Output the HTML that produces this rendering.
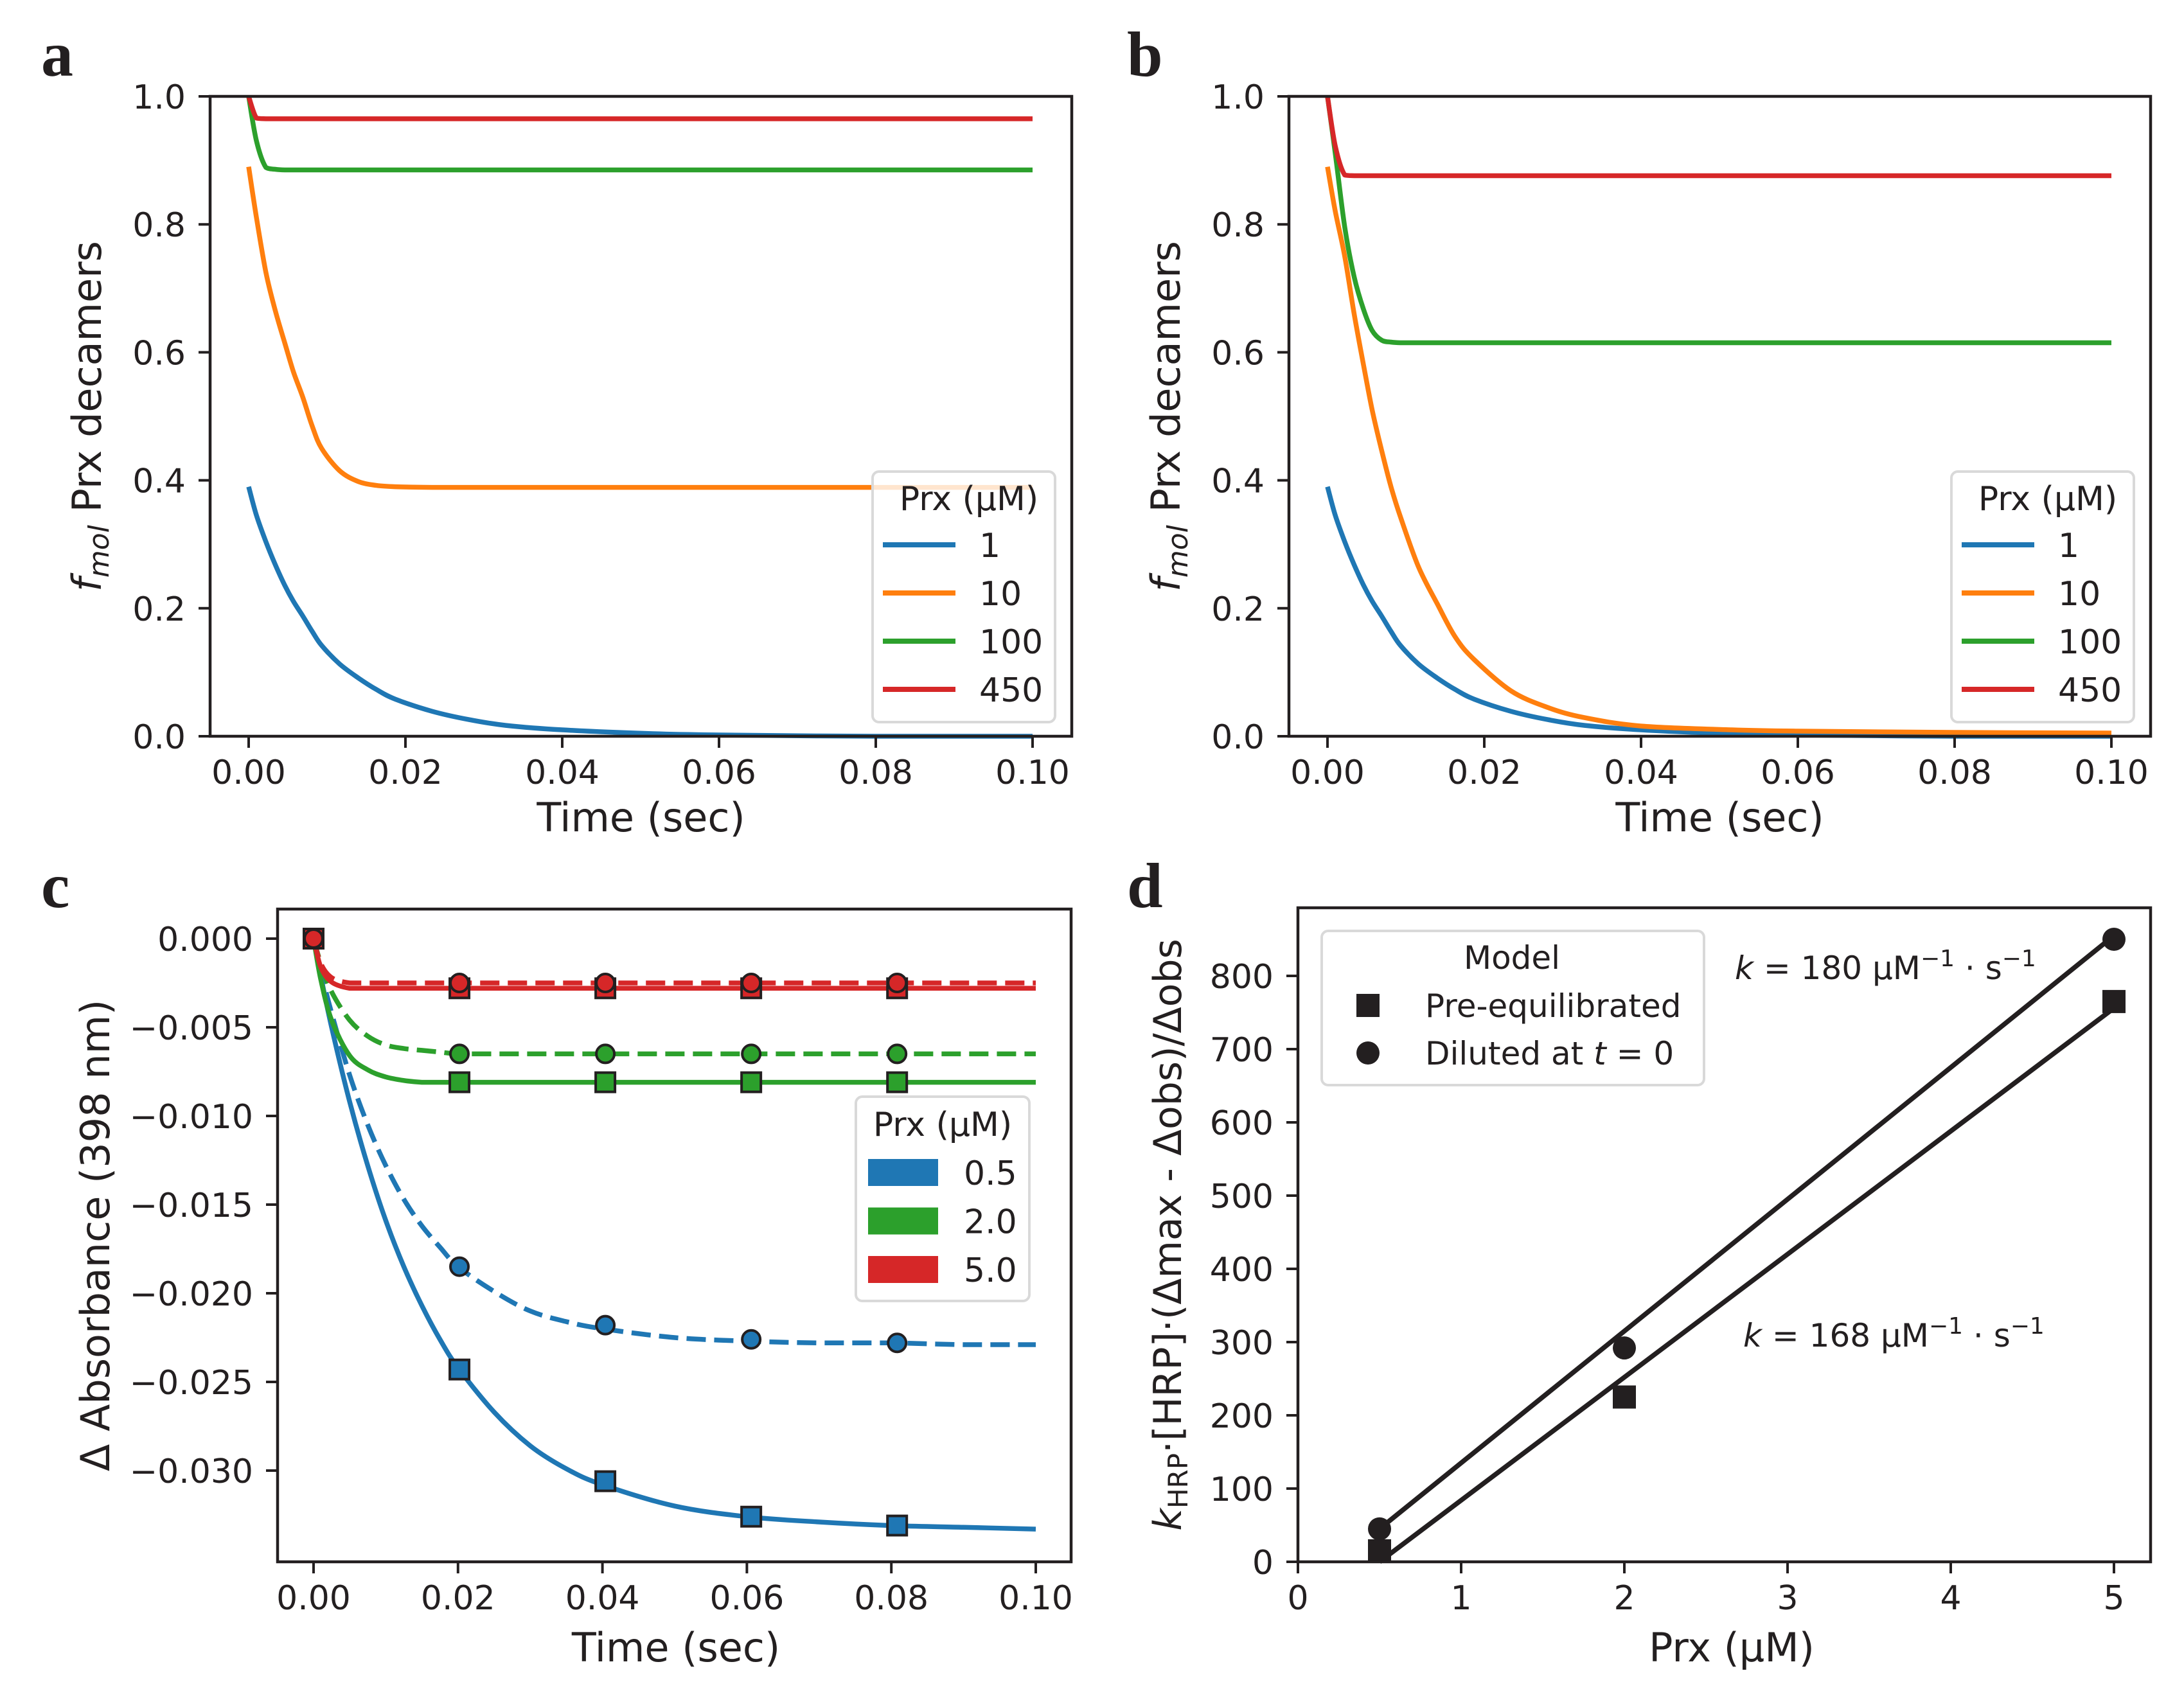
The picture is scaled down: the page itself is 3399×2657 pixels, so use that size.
<!DOCTYPE html>
<html><head><meta charset="utf-8">
<style>
html,body{margin:0;padding:0;background:#fff;}
svg{display:block;}
text{font-family:"DejaVu Sans","Liberation Sans",sans-serif;fill:#231f20;}
.letter{font-family:"Liberation Serif","DejaVu Serif",serif;font-weight:bold;font-size:100px;}
</style></head>
<body>
<svg id="fig" width="3399" height="2657" viewBox="0 0 3399 2657" xmlns="http://www.w3.org/2000/svg">
<rect x="0" y="0" width="3399" height="2657" fill="#fff"/>
<text class="letter" x="64" y="118">a</text>
<text class="letter" x="1754" y="118">b</text>
<text class="letter" x="64" y="1412">c</text>
<text class="letter" x="1754" y="1412">d</text>
</svg>
<script>
// ---------- Panel a/b data ----------
const tAB = [0,0.001,0.0022,0.0034,0.0046,0.0057,0.0069,0.0081,0.0093,0.0116,0.014,0.0163,0.0187,0.0234,0.0281,0.0328,0.04,0.0516,0.06,0.08,0.1];
const aBlue   = [0.39,0.345,0.304,0.268,0.236,0.211,0.188,0.164,0.142,0.113,0.091,0.073,0.058,0.039,0.026,0.017,0.01,0.004,0.002,0.0,0.0];
const aOrange = [0.89,0.81,0.725,0.665,0.615,0.57,0.53,0.485,0.45,0.415,0.398,0.392,0.39,0.389,0.389,0.389,0.389,0.389,0.389,0.389,0.389];
const aGreen  = [1.0,0.93,0.889,0.886,0.885,0.885,0.885,0.885,0.885,0.885,0.885,0.885,0.885,0.885,0.885,0.885,0.885,0.885,0.885,0.885,0.885];
const aRed    = [1.0,0.966,0.965,0.965,0.965,0.965,0.965,0.965,0.965,0.965,0.965,0.965,0.965,0.965,0.965,0.965,0.965,0.965,0.965,0.965,0.965];
const bBlue   = [0.39,0.345,0.304,0.268,0.236,0.211,0.188,0.164,0.142,0.113,0.091,0.073,0.058,0.039,0.026,0.017,0.01,0.004,0.002,0.0,0.0];
const bOrange = [0.89,0.82,0.75,0.66,0.58,0.51,0.447,0.39,0.343,0.265,0.207,0.155,0.12,0.071,0.045,0.029,0.016,0.01,0.008,0.006,0.005];
const bGreen  = [1.0,0.91,0.796,0.718,0.667,0.634,0.619,0.616,0.615,0.615,0.615,0.615,0.615,0.615,0.615,0.615,0.615,0.615,0.615,0.615,0.615];
const bRed    = [1.0,0.922,0.877,0.876,0.876,0.876,0.876,0.876,0.876,0.876,0.876,0.876,0.876,0.876,0.876,0.876,0.876,0.876,0.876,0.876,0.876];
const abLegendLabels = ["1","10","100","450"];
const abXTicks = [0,0.02,0.04,0.06,0.08,0.10];
const abXTickLabels = ["0.00","0.02","0.04","0.06","0.08","0.10"];
const abYTicks = [0,0.2,0.4,0.6,0.8,1.0];
const abYTickLabels = ["0.0","0.2","0.4","0.6","0.8","1.0"];

// ---------- Panel c data ----------
const tC = [0,0.001,0.0025,0.005,0.0075,0.01,0.0125,0.015,0.0175,0.02,0.025,0.03,0.035,0.04,0.05,0.06,0.07,0.08,0.09,0.1];
const cBlueSolid  = [0,-0.0021,-0.0050,-0.0092,-0.0128,-0.0159,-0.0185,-0.0207,-0.0226,-0.0242,-0.0267,-0.0286,-0.0299,-0.0308,-0.0320,-0.0326,-0.0329,-0.0331,-0.0332,-0.0333];
const cBlueDash   = [0,-0.0018,-0.0042,-0.0077,-0.0105,-0.0128,-0.0147,-0.0162,-0.0174,-0.0185,-0.0199,-0.0210,-0.0216,-0.0220,-0.0225,-0.0227,-0.0228,-0.0228,-0.0229,-0.0229];
const cGreenSolid = [0,-0.0023,-0.0046,-0.0066,-0.0074,-0.0078,-0.0080,-0.0081,-0.0081,-0.0081,-0.0081,-0.0081,-0.0081,-0.0081,-0.0081,-0.0081,-0.0081,-0.0081,-0.0081,-0.0081];
const cGreenDash  = [0,-0.0014,-0.0030,-0.0046,-0.0055,-0.0060,-0.0062,-0.0063,-0.0064,-0.0065,-0.0065,-0.0065,-0.0065,-0.0065,-0.0065,-0.0065,-0.0065,-0.0065,-0.0065,-0.0065];
const cRedSolid   = [0,-0.0016,-0.00245,-0.0028,-0.0028,-0.0028,-0.0028,-0.0028,-0.0028,-0.0028,-0.0028,-0.0028,-0.0028,-0.0028,-0.0028,-0.0028,-0.0028,-0.0028,-0.0028,-0.0028];
const cRedDash    = [0,-0.0014,-0.0022,-0.0025,-0.0025,-0.0025,-0.0025,-0.0025,-0.0025,-0.0025,-0.0025,-0.0025,-0.0025,-0.0025,-0.0025,-0.0025,-0.0025,-0.0025,-0.0025,-0.0025];
const tMarkers = [0,0.0202,0.0404,0.0606,0.0808];
const cBlueSq  = [0,-0.0243,-0.0306,-0.0326,-0.0331];
const cGreenSq = [0,-0.0081,-0.0081,-0.0081,-0.0081];
const cRedSq   = [0,-0.0028,-0.0028,-0.0028,-0.0028];
const cBlueCi  = [0,-0.0185,-0.0218,-0.0226,-0.0228];
const cGreenCi = [0,-0.0065,-0.0065,-0.0065,-0.0065];
const cRedCi   = [0,-0.0025,-0.0025,-0.0025,-0.0025];
const cLegendLabels = ["0.5","2.0","5.0"];
const cYTicks = [0,-0.005,-0.01,-0.015,-0.02,-0.025,-0.03];
const cYTickLabels = ["0.000","\u22120.005","\u22120.010","\u22120.015","\u22120.020","\u22120.025","\u22120.030"];

// ---------- Panel d data ----------
const dPrx = [0.5,2,5];
const dSquares = [15,225,765];
const dCircles = [45,292,850];
const fitSlopes = [180,168];
const fitIntercepts = [-45,-84];
const dXTicks = [0,1,2,3,4,5];
const dYTicks = [0,100,200,300,400,500,600,700,800];

const C = {blue:"#1f77b4",orange:"#ff7f0e",green:"#2ca02c",red:"#d62728",ink:"#231f20"};
const NS = "http://www.w3.org/2000/svg";
const fig = document.getElementById('fig');
function mk(tag, attrs, parent){
  const e = document.createElementNS(NS, tag);
  for (const k in attrs) e.setAttribute(k, attrs[k]);
  (parent||fig).appendChild(e);
  return e;
}
function lin(d0,d1,p0,p1){return v=>p0+(v-d0)/(d1-d0)*(p1-p0);}

function frame(g, L,T,R,B){
  const r = mk('rect',{x:L,y:T,width:R-L,height:B-T,fill:'none',stroke:C.ink,'stroke-width':4.5},g);
  
  
}
function xTicks(g, xs, labels, sx, B){
  xs.forEach((v,i)=>{
    const x = sx(v);
    const t = mk('line',{x1:x,y1:B,x2:x,y2:B+18,stroke:C.ink,'stroke-width':4},g);
    
    
    const l = mk('text',{x:x,y:B+74,'font-size':52,'text-anchor':'middle'},g);
    l.textContent = labels[i];
    
    
  });
}
function yTicks(g, ys, labels, sy, L){
  ys.forEach((v,i)=>{
    const y = sy(v);
    const t = mk('line',{x1:L-18,y1:y,x2:L,y2:y,stroke:C.ink,'stroke-width':4},g);
    
    
    const l = mk('text',{x:L-38,y:y+19,'font-size':52,'text-anchor':'end'},g);
    l.textContent = labels[i];
    
    
  });
}
function path(g, xs, ys, sx, sy, color, dash, name){
  const P = xs.map((x,i)=>[sx(x), sy(ys[i])]);
  let d = 'M'+P[0][0].toFixed(1)+','+P[0][1].toFixed(1);
  for (let i=0;i<P.length-1;i++){
    const p0=P[Math.max(0,i-1)], p1=P[i], p2=P[i+1], p3=P[Math.min(P.length-1,i+2)];
    let c1x=p1[0]+(p2[0]-p0[0])/6, c1y=p1[1]+(p2[1]-p0[1])/6;
    let c2x=p2[0]-(p3[0]-p1[0])/6, c2y=p2[1]-(p3[1]-p1[1])/6;
    // keep monotone in y between points
    const lo=Math.min(p1[1],p2[1]), hi=Math.max(p1[1],p2[1]);
    c1y=Math.min(hi,Math.max(lo,c1y)); c2y=Math.min(hi,Math.max(lo,c2y));
    d += ` C${c1x.toFixed(1)},${c1y.toFixed(1)} ${c2x.toFixed(1)},${c2y.toFixed(1)} ${p2[0].toFixed(1)},${p2[1].toFixed(1)}`;
  }
  const p = mk('path',{d:d,fill:'none',stroke:color,'stroke-width':7.5,'stroke-linejoin':'round'},g);
  if (dash) p.setAttribute('stroke-dasharray','30,13');
  
  
}
function clip(id,L,T,R,B){
  const cp = mk('clipPath',{id:id});
  mk('rect',{x:L,y:T,width:R-L,height:B-T},cp);
}

// ---------- Panels a & b ----------
function panelAB(prefix, L, series){
  const T=150, B=1146, R=L+1341;
  const sx = lin(0,0.1,L+60,L+1280);
  const sy = lin(0,1,B,T);
  const g = mk('g',{});
  
  
  const names=['blue-1uM','orange-10uM','green-100uM','red-450uM'];
  const cols=[C.blue,C.orange,C.green,C.red];
  series.forEach((s,i)=>path(g,tAB,s,sx,sy,cols[i],false,'line-'+names[i]));
  frame(g,L,T,R,B);
  xTicks(g,abXTicks,abXTickLabels,sx,B);
  yTicks(g,abYTicks,abYTickLabels,sy,L);
  const xl = mk('text',{x:(L+R)/2,y:1294,'font-size':62,'text-anchor':'middle'},g);
  xl.textContent='Time (sec)';
  
  
  const yl = mk('text',{transform:`translate(${L-170},${(T+B)/2}) rotate(-90)`,'font-size':62,'text-anchor':'middle'},g);
  yl.innerHTML='<tspan font-style="italic">f</tspan><tspan font-style="italic" font-size="44" dy="12">mol</tspan><tspan dy="-12"> Prx decamers</tspan>';
  
  
  const lx = R-310, ly=734;
  const lg = mk('g',{},g);
  
  
  const box = mk('rect',{x:lx,y:ly,width:284,height:390,rx:10,fill:'#fff','fill-opacity':0.8,stroke:'#d9d9d9','stroke-width':4},lg);
  
  
  const tt = mk('text',{x:lx+150,y:ly+60,'font-size':52,'text-anchor':'middle'},lg);
  tt.textContent='Prx (\u00b5M)';
  
  
  abLegendLabels.forEach((lab,i)=>{
    const y = ly+114+i*75;
    const ln = mk('line',{x1:lx+16,y1:y,x2:lx+129,y2:y,stroke:cols[i],'stroke-width':8},lg);
    
    
    const tx = mk('text',{x:lx+166,y:y+19,'font-size':52},lg);
    tx.textContent=lab;
    
    
  });
}
panelAB('a',327,[aBlue,aOrange,aGreen,aRed]);
panelAB('b',2006,[bBlue,bOrange,bGreen,bRed]);

// ---------- Panel c ----------
(function(){
  const L=432,T=1415,R=1667,B=2431;
  const sx = lin(0,0.1,488,1612);
  const sy = lin(0,-0.03,1461,2289);
  const g = mk('g',{});
  
  
  clip('clipc',L,T,R,B);
  const inner = mk('g',{'clip-path':'url(#clipc)'},g);
  path(inner,tC,cBlueSolid,sx,sy,C.blue,false,'line-blue-pre-equilibrated');
  path(inner,tC,cBlueDash,sx,sy,C.blue,true,'line-blue-diluted');
  path(inner,tC,cGreenSolid,sx,sy,C.green,false,'line-green-pre-equilibrated');
  path(inner,tC,cGreenDash,sx,sy,C.green,true,'line-green-diluted');
  path(inner,tC,cRedSolid,sx,sy,C.red,false,'line-red-pre-equilibrated');
  path(inner,tC,cRedDash,sx,sy,C.red,true,'line-red-diluted');
  const sq=[[cBlueSq,C.blue],[cGreenSq,C.green],[cRedSq,C.red]];
  const ci=[[cBlueCi,C.blue],[cGreenCi,C.green],[cRedCi,C.red]];
  sq.forEach(([vals,col])=>vals.forEach((v,i)=>{
    const m = mk('rect',{x:sx(tMarkers[i])-15,y:sy(v)-15,width:30,height:30,fill:col,stroke:C.ink,'stroke-width':4},g);
    
    
  }));
  ci.forEach(([vals,col])=>vals.forEach((v,i)=>{
    const m = mk('circle',{cx:sx(tMarkers[i]),cy:sy(v),r:14,fill:col,stroke:C.ink,'stroke-width':4},g);
    
    
  }));
  frame(g,L,T,R,B);
  xTicks(g,abXTicks,abXTickLabels,sx,B);
  yTicks(g,cYTicks,cYTickLabels,sy,L);
  const xl = mk('text',{x:1052,y:2586,'font-size':62,'text-anchor':'middle'},g);
  xl.textContent='Time (sec)';
  
  
  const yl = mk('text',{transform:`translate(170,${(T+B)/2}) rotate(-90)`,'font-size':62,'text-anchor':'middle'},g);
  yl.textContent='\u0394 Absorbance (398 nm)';
  
  
  const lg = mk('g',{},g);
  
  
  const box = mk('rect',{x:1332,y:1707,width:270,height:318,rx:10,fill:'#fff','fill-opacity':0.8,stroke:'#d9d9d9','stroke-width':4},lg);
  
  
  const tt = mk('text',{x:1467,y:1768,'font-size':52,'text-anchor':'middle'},lg);
  tt.textContent='Prx (\u00b5M)';
  
  
  const cols=[C.blue,C.green,C.red];
  cLegendLabels.forEach((lab,i)=>{
    const y = 1804+i*75.5;
    const p = mk('rect',{x:1351,y:y,width:109,height:42,fill:cols[i]},lg);
    
    
    const tx = mk('text',{x:1500,y:y+40,'font-size':52},lg);
    tx.textContent=lab;
    
    
  });
})();

// ---------- Panel d ----------
(function(){
  const L=2020,T=1413,R=3347,B=2431;
  const sx = lin(0,1,2020,2274);
  const sy = lin(0,100,2431,2317);
  const g = mk('g',{});
  
  
  fitSlopes.forEach((s,i)=>{
    const x0=dPrx[0], x1=dPrx[dPrx.length-1];
    const ln = mk('line',{x1:sx(x0),y1:sy(s*x0+fitIntercepts[i]),x2:sx(x1),y2:sy(s*x1+fitIntercepts[i]),stroke:C.ink,'stroke-width':7.5},g);
    
    
  });
  dPrx.forEach((x,i)=>{
    const s = mk('rect',{x:sx(x)-18,y:sy(dSquares[i])-18,width:36,height:36,fill:C.ink},g);
    
    
    const c = mk('circle',{cx:sx(x),cy:sy(dCircles[i]),r:18,fill:C.ink},g);
    
    
  });
  frame(g,L,T,R,B);
  xTicks(g,dXTicks,dXTicks.map(String),sx,B);
  yTicks(g,dYTicks,dYTicks.map(String),sy,L);
  const xl = mk('text',{x:2695,y:2586,'font-size':62,'text-anchor':'middle'},g);
  xl.textContent='Prx (\u00b5M)';
  
  
  const yl = mk('text',{transform:`translate(1838,${(T+B)/2}) rotate(-90)`,'font-size':60,'text-anchor':'middle'},g);
  yl.innerHTML='<tspan font-style="italic">k</tspan><tspan font-size="42" dy="10">HRP</tspan><tspan dy="-10">\u00b7[HRP]\u00b7(\u0394max - \u0394obs)/\u0394obs</tspan>';
  
  
  const a1 = mk('text',{x:2700,y:1524,'font-size':50},g);
  a1.innerHTML='<tspan font-style="italic">k</tspan> = 180 \u00b5M<tspan font-size="36" dy="-20">\u22121</tspan><tspan dy="20"> \u00b7 s</tspan><tspan font-size="36" dy="-20">\u22121</tspan>';
  
  
  const a2 = mk('text',{x:2713,y:2096,'font-size':50},g);
  a2.innerHTML='<tspan font-style="italic">k</tspan> = 168 \u00b5M<tspan font-size="36" dy="-20">\u22121</tspan><tspan dy="20"> \u00b7 s</tspan><tspan font-size="36" dy="-20">\u22121</tspan>';
  
  
  const lg = mk('g',{},g);
  
  
  const box = mk('rect',{x:2057,y:1449,width:595,height:240,rx:10,fill:'#fff','fill-opacity':0.8,stroke:'#d9d9d9','stroke-width':4},lg);
  
  
  const tt = mk('text',{x:2353,y:1508,'font-size':50,'text-anchor':'middle'},lg);
  tt.textContent='Model';
  
  
  const ms = mk('rect',{x:2111,y:1547,width:36,height:36,fill:C.ink},lg);
  
  
  const t1 = mk('text',{x:2218,y:1583,'font-size':50},lg);
  t1.textContent='Pre-equilibrated';
  
  
  const mc = mk('circle',{cx:2129,cy:1639,r:18,fill:C.ink},lg);
  
  
  const t2 = mk('text',{x:2218,y:1657,'font-size':50},lg);
  t2.innerHTML='Diluted at <tspan font-style="italic">t</tspan> = 0';
  
  
})();
</script>
</body></html>
